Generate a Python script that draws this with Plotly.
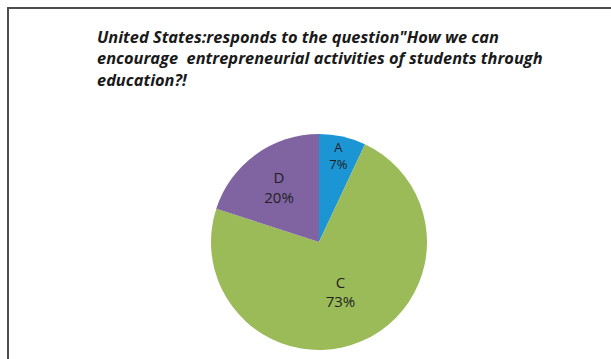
import plotly.graph_objects as go

# Survey answers (share of respondents, %)
categories = ["A", "C", "D"]
shares = [7, 73, 20]
slice_colors = ["#1b95d3", "#9bbb59", "#8064a2"]

title_lines = [
    "United States:responds to the question\"How we can",
    "encourage  entrepreneurial activities of students through",
    "education?!",
]

W, H = 611, 359
cx, cy, r = 319, 242, 108  # pie centre / radius in pixels

fig = go.Figure(
    go.Pie(
        labels=categories,
        values=shares,
        sort=False,
        direction="clockwise",
        rotation=0,
        marker=dict(colors=slice_colors, line=dict(width=0)),
        texttemplate="%{label}<br>%{percent:.0%}",
        textposition="inside",
        insidetextorientation="horizontal",
        textfont=dict(family="Open Sans, sans-serif", size=15, color="#1f1f1f"),
        hoverinfo="label+percent",
        showlegend=False,
        domain=dict(
            x=[(cx - r) / W, (cx + r) / W],
            y=[1 - (cy + r) / H, 1 - (cy - r) / H],
        ),
    )
)

fig.add_annotation(
    text="<b><i>" + "<br>".join(title_lines) + "</i></b>",
    xref="paper", yref="paper",
    x=95 / W, y=1 - 23 / H,
    xanchor="left", yanchor="top",
    align="left",
    showarrow=False,
    font=dict(family="Open Sans, sans-serif", size=16.4, color="#1a1a1a"),
)

# Chart frame (left and top edges)
frame = dict(color="#4d4d4d", width=2)
fig.add_shape(type="line", xref="paper", yref="paper",
              x0=8 / W, x1=8 / W, y0=0, y1=1 - 8 / H, line=frame)
fig.add_shape(type="line", xref="paper", yref="paper",
              x0=7 / W, x1=1, y0=1 - 8 / H, y1=1 - 8 / H, line=frame)

fig.update_layout(
    width=W, height=H,
    margin=dict(l=0, r=0, t=0, b=0),
    paper_bgcolor="white",
    plot_bgcolor="white",
)

fig.write_html("out.html")
